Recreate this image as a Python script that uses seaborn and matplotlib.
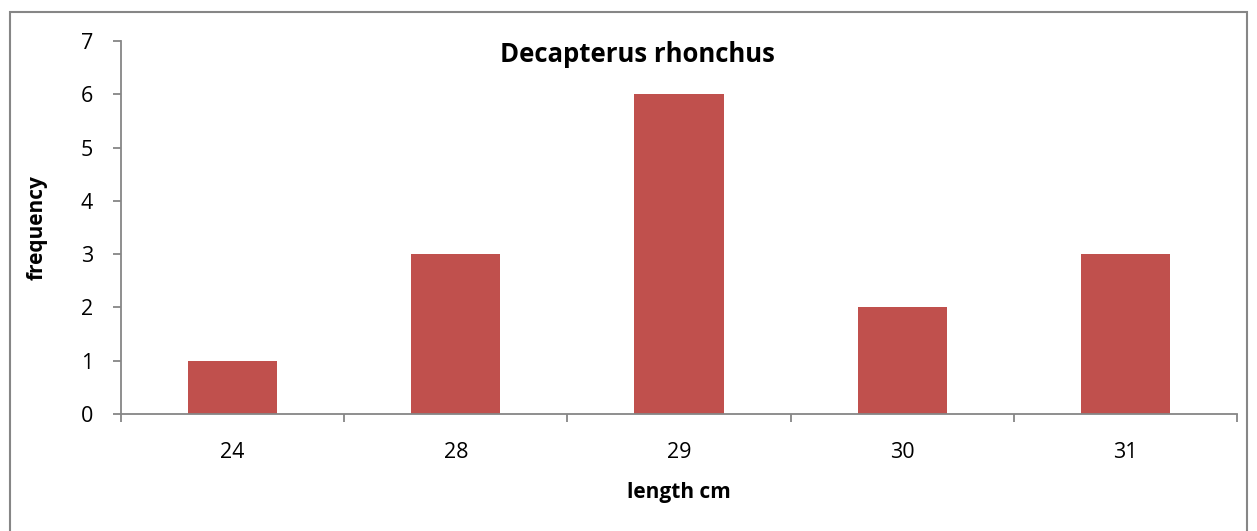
import matplotlib
matplotlib.use("Agg")
import matplotlib.pyplot as plt
from matplotlib.patches import Rectangle
from matplotlib.ticker import FixedLocator
import pandas as pd
import seaborn as sns

lengths = ["24", "28", "29", "30", "31"]
frequency = [1, 3, 6, 2, 3]
title = "Decapterus rhonchus"

df = pd.DataFrame({"length": lengths, "frequency": frequency})

sns.set_theme(style="white")
plt.rcParams["font.family"] = ["Open Sans", "DejaVu Sans"]
plt.rcParams["text.color"] = "black"
plt.rcParams["xtick.color"] = "black"
plt.rcParams["ytick.color"] = "black"
plt.rcParams["axes.labelcolor"] = "black"

fig = plt.figure(figsize=(12.57, 5.31), dpi=100)
ax = fig.add_axes([121 / 1257, 1 - 414 / 531, (1237 - 121) / 1257, (414 - 41) / 531])

sns.barplot(data=df, x="length", y="frequency", color="#C0504D", saturation=1,
            width=0.4, linewidth=0, ax=ax)

grey = "#868686"
ax.set_ylim(0, 7)
ax.set_xlim(-0.5, len(lengths) - 0.5)
ax.set_yticks(range(0, 8))
for side in ("top", "right"):
    ax.spines[side].set_visible(False)
for side in ("left", "bottom"):
    ax.spines[side].set_color(grey)
    ax.spines[side].set_linewidth(1.3)

ax.tick_params(axis="y", which="major", left=True, length=6, color=grey, width=1.3,
               labelsize=15.5, pad=14, labelcolor="black")
ax.tick_params(axis="x", which="major", bottom=False, labelsize=15.5, pad=14,
               labelcolor="black")
ax.xaxis.set_minor_locator(FixedLocator([i - 0.5 for i in range(len(lengths) + 1)]))
ax.tick_params(axis="x", which="minor", bottom=True, length=6, color=grey, width=1.3)

ax.set_xlabel("length cm", fontsize=15, fontweight="bold", labelpad=14)
ax.set_ylabel("frequency", fontsize=15, fontweight="bold", labelpad=24)
fig.text(637 / 1257, 1 - 55 / 531, title, ha="center", va="center",
         fontsize=18.5, fontweight="bold")

fig.patches.append(Rectangle((10 / 1257, -0.05), (1247 - 10) / 1257, 1.05 - 12 / 531,
                             transform=fig.transFigure, fill=False, edgecolor=grey,
                             linewidth=1.5, zorder=0))

fig.savefig("out.png", dpi=100)
